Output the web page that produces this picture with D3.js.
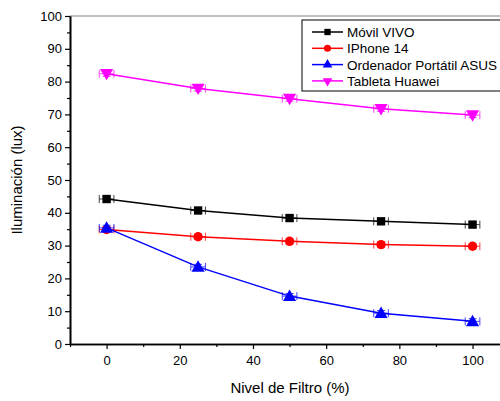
<!DOCTYPE html>
<html>
<head>
<meta charset="utf-8">
<script src="https://cdn.jsdelivr.net/npm/d3@7"></script>
<style>
    body { margin: 0; background: #fff; }
    svg { display: block; font-family: Arial, "Liberation Sans", sans-serif; }
</style>
</head>
<body>
<div class="chart"></div>
<script>
const filterLevels = [0, 25, 50, 75, 100];
const movilVivo = [44.2, 40.7, 38.4, 37.4, 36.4];
const iphone14 = [34.9, 32.7, 31.3, 30.3, 29.8];
const asus = [35.4, 23.5, 14.6, 9.4, 6.9];
const huawei = [82.4, 77.9, 74.8, 71.7, 69.8];
const xError = [2, 2, 2, 2, 2];
const yError = [0.8, 0.8, 0.8, 0.8, 0.8];
const seriesNames = ['Móvil VIVO', 'IPhone 14', 'Ordenador Portátil ASUS', 'Tableta Huawei'];
const seriesValues = [movilVivo, iphone14, asus, huawei];
const seriesColors = ['#000000', '#ff0000', '#0000ff', '#ff00ff'];
const xTicks = [0, 20, 40, 60, 80, 100];
const yTicks = [0, 10, 20, 30, 40, 50, 60, 70, 80, 90, 100];

const width = 500, height = 401;
const margin = {top: 16, right: 0, bottom: 57, left: 70};

const svg = d3.select('.chart').append('svg')
    .attr('width', width)
    .attr('height', height);

const x = d3.scaleLinear().domain([-10, 107.5]).range([margin.left, width - margin.right]);
const y = d3.scaleLinear().domain([0, 100]).range([height - margin.bottom, margin.top]);

// top frame
svg.append('line')
    .attr('x1', margin.left).attr('x2', width)
    .attr('y1', y(100)).attr('y2', y(100))
    .style('stroke', '#808080').style('stroke-width', 1);

// minor ticks
const xMinor = d3.range(-10, 110, 10).filter(v => v % 20 !== 0);
const yMinor = d3.range(5, 100, 10);

svg.append('g')
    .attr('transform', `translate(0,${y(0)})`)
    .call(d3.axisBottom(x).tickValues(xTicks).tickSize(5).tickPadding(7).tickSizeOuter(0));
svg.append('g')
    .attr('transform', `translate(0,${y(0)})`)
    .call(d3.axisBottom(x).tickValues(xMinor).tickSize(3).tickFormat('').tickSizeOuter(0));

svg.append('g')
    .attr('transform', `translate(${margin.left},0)`)
    .call(d3.axisLeft(y).tickValues(yTicks).tickSize(5).tickPadding(3).tickSizeOuter(0));
svg.append('g')
    .attr('transform', `translate(${margin.left},0)`)
    .call(d3.axisLeft(y).tickValues(yMinor).tickSize(3).tickFormat('').tickSizeOuter(0));

svg.selectAll('.domain').style('stroke', '#000').style('stroke-width', 1.6);
svg.selectAll('.tick line').style('stroke', '#000').style('stroke-width', 1.2);
svg.selectAll('.tick text').style('font-size', '13px').style('fill', '#000');

svg.append('text')
    .attr('x', 290).attr('y', 393)
    .style('text-anchor', 'middle')
    .style('font-size', '15px')
    .text('Nivel de Filtro (%)');

svg.append('text')
    .attr('transform', `translate(22,${(y(0) + y(100)) / 2}) rotate(-90)`)
    .style('text-anchor', 'middle')
    .style('font-size', '15px')
    .text('Iluminación (lux)');

const symbols = [
    d3.symbol().type(d3.symbolSquare).size(70),
    d3.symbol().type(d3.symbolCircle).size(70),
    d3.symbol().type(d3.symbolTriangle).size(75),
    d3.symbol().type(d3.symbolTriangle).size(75)
];
const rotations = [0, 0, 0, 180];

const line = d3.line().x((d, i) => x(filterLevels[i])).y(d => y(d));

seriesValues.forEach((vals, s) => {
    const color = seriesColors[s];
    const g = svg.append('g');
    g.append('path')
        .attr('d', line(vals))
        .style('fill', 'none')
        .style('stroke', color)
        .style('stroke-width', 1.5);

    vals.forEach((v, i) => {
        const cx = x(filterLevels[i]), cy = y(v);
        const x0 = x(filterLevels[i] - xError[i]), x1 = x(filterLevels[i] + xError[i]);
        const y0 = y(v - yError[i]), y1 = y(v + yError[i]);
        const eb = g.append('g').style('stroke', color).style('stroke-width', 1).style('opacity', 0.75);
        eb.append('line').attr('x1', x0).attr('x2', x1).attr('y1', cy).attr('y2', cy);
        eb.append('line').attr('x1', x0).attr('x2', x0).attr('y1', cy - 4).attr('y2', cy + 4);
        eb.append('line').attr('x1', x1).attr('x2', x1).attr('y1', cy - 4).attr('y2', cy + 4);
        eb.append('line').attr('x1', cx).attr('x2', cx).attr('y1', y0).attr('y2', y1);
        eb.append('line').attr('x1', cx - 4).attr('x2', cx + 4).attr('y1', y0).attr('y2', y0);
        eb.append('line').attr('x1', cx - 4).attr('x2', cx + 4).attr('y1', y1).attr('y2', y1);

        g.append('path')
            .attr('d', symbols[s]())
            .attr('transform', `translate(${cx},${cy + (s === 2 ? 1 : s === 3 ? -1 : 0)}) rotate(${rotations[s]})`)
            .style('fill', color);
    });
});

// legend
const legend = svg.append('g');
legend.append('rect')
    .attr('x', 302).attr('y', 20)
    .attr('width', 205).attr('height', 71)
    .style('fill', '#fff')
    .style('stroke', '#000')
    .style('stroke-width', 1);

seriesNames.forEach((name, s) => {
    const ly = 32 + s * 16.3;
    legend.append('line')
        .attr('x1', 312).attr('x2', 343)
        .attr('y1', ly).attr('y2', ly)
        .style('stroke', seriesColors[s]).style('stroke-width', 1.5);
    legend.append('path')
        .attr('d', d3.symbol().type(s < 2 ? (s === 0 ? d3.symbolSquare : d3.symbolCircle) : d3.symbolTriangle).size(40)())
        .attr('transform', `translate(327.5,${ly}) rotate(${rotations[s]})`)
        .style('fill', seriesColors[s]);
    legend.append('text')
        .attr('x', 347).attr('y', ly + 5)
        .style('font-size', '13.5px')
        .text(name);
});
</script>
</body>
</html>
